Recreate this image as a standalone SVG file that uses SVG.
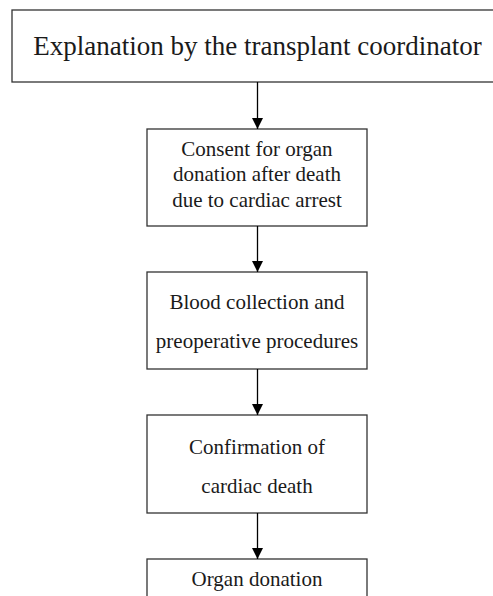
<svg xmlns="http://www.w3.org/2000/svg" width="493" height="596" viewBox="0 0 493 596">
<defs>
<style>
.box{fill:#fff;stroke:#333;stroke-width:1.3}
.t{font-family:"Liberation Serif","Times New Roman",serif;fill:#1a1a1a;text-anchor:middle;font-size:21px}
.edge{stroke:#000;stroke-width:1.3;fill:none}
</style>
<marker id="ah" viewBox="0 0 10 10" refX="10" refY="5" markerWidth="11" markerHeight="11" markerUnits="userSpaceOnUse" orient="auto">
<path d="M0,0 L10,5 L0,10 z" fill="#000"/>
</marker>
</defs>
<rect width="493" height="596" fill="#fff"/>
<g id="n1">
<rect class="box" x="12" y="10" width="490" height="72"/>
<text class="t" x="257.5" y="55" style="font-size:27px">Explanation by the transplant coordinator</text>
</g>
<g id="n2">
<rect class="box" x="147" y="129" width="220" height="97"/>
<text class="t" x="257" y="156">Consent for organ</text>
<text class="t" x="257" y="181">donation after death</text>
<text class="t" x="257" y="207">due to cardiac arrest</text>
</g>
<g id="n3">
<rect class="box" x="147" y="272" width="220" height="97"/>
<text class="t" x="257" y="309">Blood collection and</text>
<text class="t" x="257" y="348">preoperative procedures</text>
</g>
<g id="n4">
<rect class="box" x="147" y="415" width="220" height="98"/>
<text class="t" x="257" y="454">Confirmation of</text>
<text class="t" x="257" y="493">cardiac death</text>
</g>
<g id="n5">
<rect class="box" x="147" y="559" width="220" height="60"/>
<text class="t" x="257" y="586">Organ donation</text>
</g>
<g id="edges">
<line class="edge" x1="257.5" y1="82" x2="257.5" y2="129" marker-end="url(#ah)"/>
<line class="edge" x1="257.5" y1="226" x2="257.5" y2="272" marker-end="url(#ah)"/>
<line class="edge" x1="257.5" y1="369" x2="257.5" y2="415" marker-end="url(#ah)"/>
<line class="edge" x1="257.5" y1="513" x2="257.5" y2="559" marker-end="url(#ah)"/>
</g>
</svg>
